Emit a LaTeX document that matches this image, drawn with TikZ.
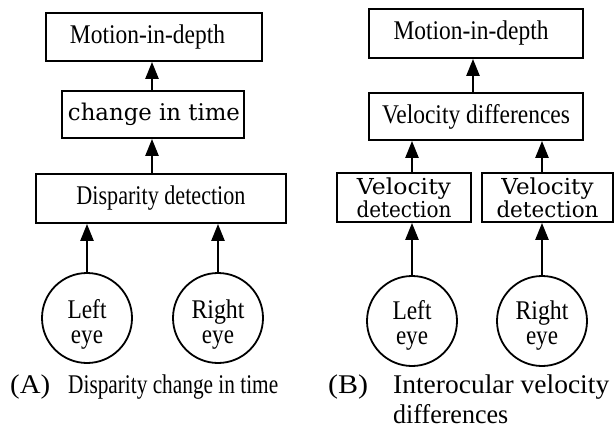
\documentclass[tikz,border=0pt]{standalone}
\usepackage{fontspec}
\setmainfont{Liberation Serif}
\newfontfamily\dvs{DejaVu Serif}
\usetikzlibrary{arrows.meta}
\newcommand\fw[2]{\resizebox{#1}{\height}{#2}}
\newcommand\twol[3]{\raisebox{#3}[\height][\depth]{\begin{tabular}{@{}c@{}}#1\\#2\end{tabular}}}
\tikzset{
  box/.style={draw, line width=1.8pt, rectangle, inner sep=0pt, align=center,
    font=\fontsize{27}{27}\selectfont},
  dbox/.style={box, font=\dvs\fontsize{22}{18}\selectfont},
  eye/.style={draw, line width=1.8pt, circle, minimum size=90pt, inner sep=0pt,
    font=\fontsize{27}{25}\selectfont},
  arr/.style={line width=2.4pt, -{Triangle[length=17pt,width=13pt]}},
  captext/.style={anchor=base west, inner sep=0pt, font=\fontsize{27}{27}\selectfont}
}
\begin{document}
\begin{tikzpicture}[x=1pt,y=-1pt]
\useasboundingbox (0,0) rectangle (614,434);
% Panel A
\node[box, minimum width=216pt, minimum height=48pt] (m1) at (154,37) {\fw{155pt}{Motion-in-depth}\hspace{13pt}};
\node[box, minimum width=182pt, minimum height=47pt, font=\dvs\fontsize{23}{23}\selectfont] (c1) at (153,114.5) {\hspace{2pt}\fw{172pt}{change in time}};
\node[box, minimum width=250pt, minimum height=49pt] (d1) at (161,198.5) {\fw{169pt}{Disparity detection}};
\node[eye] (le1) at (87,318) {\twol{\fw{39pt}{Left}}{\fw{32pt}{eye}}{-7pt}};
\node[eye] (re1) at (218,318) {\twol{\fw{53pt}{Right}}{\fw{32pt}{eye}}{-7pt}};
\coordinate (a1) at (152,0);
\draw[arr] (c1.north -| a1) -- (m1.south -| a1);
\draw[arr] (d1.north -| a1) -- (c1.south -| a1);
\draw[arr] (le1.north) -- (le1.north |- d1.south);
\draw[arr] (re1.north) -- (re1.north |- d1.south);
\node[captext] (capa) at (10,393) {\fw{40pt}{(A)}\hspace{18pt}\fw{210pt}{Disparity change in time}};
% Panel B
\node[box, minimum width=214pt, minimum height=49pt] (m2) at (476,33.5) {\fw{155pt}{Motion-in-depth}\hspace{10pt}};
\node[box, minimum width=214pt, minimum height=47pt] (vd) at (476,116.5) {\fw{188pt}{Velocity differences}};
\node[dbox, minimum width=134pt, minimum height=49pt] (v1) at (404,197.5) {\fw{94pt}{Velocity}\\\fw{95pt}{detection}};
\node[dbox, minimum width=131pt, minimum height=49pt] (v2) at (547.5,197.5) {\fw{92pt}{Velocity}\\\fw{102pt}{detection}};
\node[eye] (le2) at (412,321) {\twol{\fw{39pt}{Left}}{\fw{32pt}{eye}}{-5pt}};
\node[eye] (re2) at (542,321) {\twol{\fw{53pt}{Right}}{\fw{32pt}{eye}}{-5pt}};
\coordinate (a2) at (473,0);
\draw[arr] (vd.north -| a2) -- (m2.south -| a2);
\draw[arr] (le2.north |- v1.north) -- (le2.north |- vd.south);
\draw[arr] (re2.north |- v2.north) -- (re2.north |- vd.south);
\draw[arr] (le2.north) -- (le2.north |- v1.south);
\draw[arr] (re2.north) -- (re2.north |- v2.south);
\node[captext] (capb) at (328,393) {\fw{40pt}{(B)}\hspace{25pt}\fw{216pt}{Interocular velocity}};
\node[captext] (capb2) at (393,423) {\fw{115pt}{differences}};
\end{tikzpicture}
\end{document}
